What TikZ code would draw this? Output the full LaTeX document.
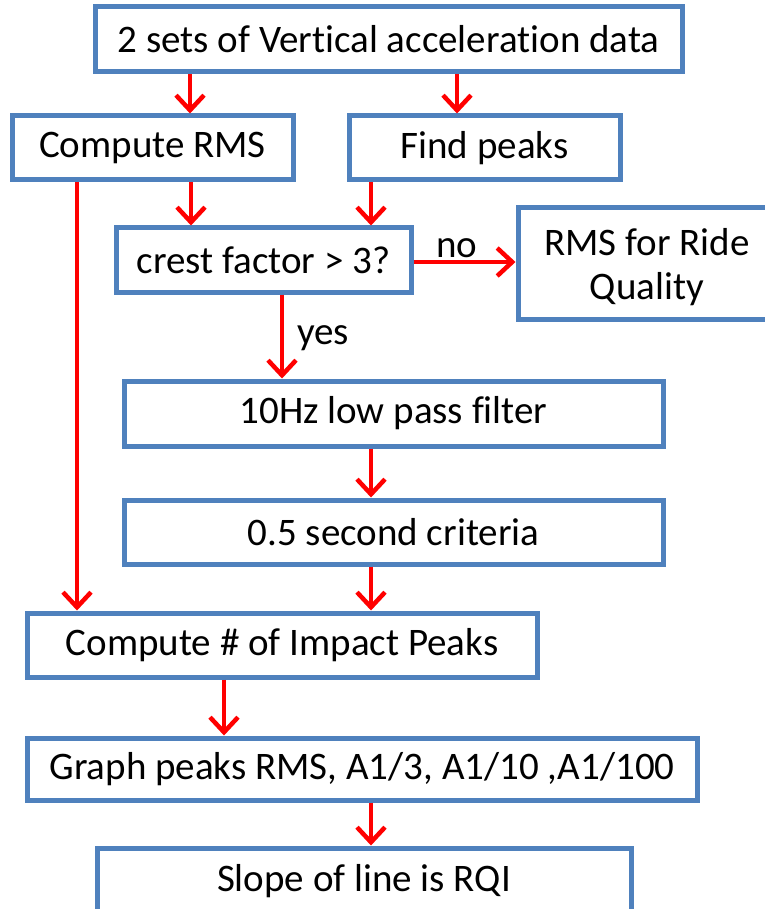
\documentclass[tikz,border=0pt]{standalone}
\usepackage{fontspec}
\setmainfont[Ligatures={NoCommon,NoRequired,NoContextual},RawFeature={-liga;-dlig}]{Carlito}
\usetikzlibrary{arrows.meta}
\definecolor{boxblue}{RGB}{79,129,189}
\definecolor{arrred}{RGB}{255,0,0}
\begin{document}
\begin{tikzpicture}[x=1pt,y=-1pt,
  fbox/.style={draw=boxblue,line width=5pt,rectangle,inner sep=0pt,fill=white,
    font=\fontsize{39}{44}\selectfont,align=center},
  flow/.style={draw=arrred,line width=4.5pt,
    -{Straight Barb[length=15pt,width=28pt,line width=4.5pt]}},
  lbl/.style={font=\fontsize{39}{44}\selectfont,inner sep=0pt}]
\useasboundingbox (0,0) rectangle (764,909);
\node[fbox,minimum width=587pt,minimum height=65pt] (b1) at (388.5,39.5) {2 sets of Vertical acceleration data};
\node[fbox,minimum width=281pt,minimum height=64pt] (b2) at (152.5,148) {Compute RMS};
\node[fbox,minimum width=271pt,minimum height=64pt] (b3) at (484.5,148) {Find peaks};
\node[fbox,minimum width=295pt,minimum height=64pt] (b4) at (263.5,260) {crest factor > 3?};
\node[fbox,minimum width=258pt,minimum height=111pt] (b5) at (647,263.5) {};
\node[lbl,align=center] (b5t) at (647,267) {RMS for Ride\\Quality};
\node[fbox,minimum width=539pt,minimum height=65pt] (b6) at (393.5,413.5) {10Hz low pass filter};
\node[fbox,minimum width=539pt,minimum height=64pt] (b7) at (393.5,532) {0.5 second criteria};
\node[fbox,minimum width=510pt,minimum height=64pt] (b8) at (282,645) {Compute \# of Impact Peaks};
\node[fbox,minimum width=670pt,minimum height=62pt] (b9) at (362,769) {Graph peaks RMS, A1/3, A1/10 ,A1/100};
\node[fbox,minimum width=534pt,minimum height=66pt] (b10) at (364,881) {Slope of line is RQI};
\draw[flow] (b1.south -| 190,0) -- (b2.north -| 190,0);
\draw[flow] (b1.south -| 457,0) -- (b3.north -| 457,0);
\draw[flow] (b2.south -| 191,0) -- (b4.north -| 191,0);
\draw[flow] (b3.south -| 371,0) -- (b4.north -| 371,0);
\draw[flow] (b2.south -| 77,0) -- (b8.north -| 77,0);
\draw[flow] (b4.east |- 0,262) -- (b5.west |- 0,262);
\node[lbl] (no) at (457,248) {no};
\draw[flow] (b4.south -| 282,0) -- (b6.north -| 282,0);
\node[lbl,anchor=west] (yes) at (297,338) {yes};
\draw[flow] (b6.south -| 371,0) -- (b7.north -| 371,0);
\draw[flow] (b7.south -| 371,0) -- (b8.north -| 371,0);
\draw[flow] (b8.south -| 224,0) -- (b9.north -| 224,0);
\draw[flow] (b9.south -| 371,0) -- (b10.north -| 371,0);
\end{tikzpicture}
\end{document}
